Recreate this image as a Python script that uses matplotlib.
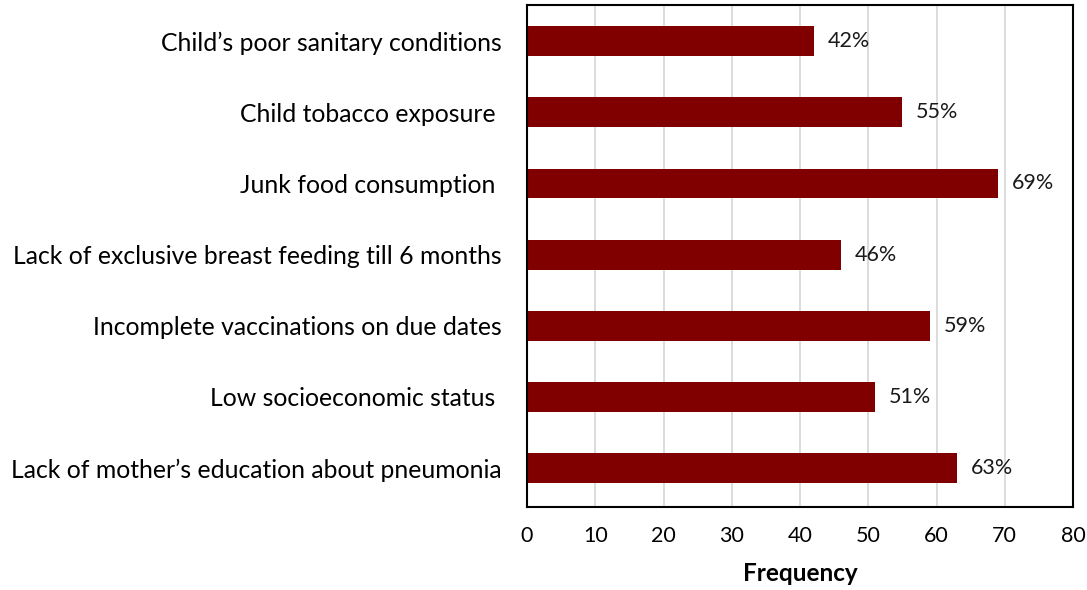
import matplotlib
matplotlib.use("Agg")
import matplotlib.pyplot as plt

categories = [
    "Child\u2019s poor sanitary conditions",
    "Child tobacco exposure ",
    "Junk food consumption ",
    "Lack of exclusive breast feeding till 6 months",
    "Incomplete vaccinations on due dates",
    "Low socioeconomic status ",
    "Lack of mother\u2019s education about pneumonia",
]
values = [42, 55, 69, 46, 59, 51, 63]
value_labels = ["42%", "55%", "69%", "46%", "59%", "51%", "63%"]
x_ticks = [0, 10, 20, 30, 40, 50, 60, 70, 80]

plt.rcParams['font.family'] = ['Lato', 'DejaVu Sans']

fig = plt.figure(figsize=(10.87, 5.90), dpi=100)
ax = fig.add_axes([527/1087, 1 - 507/590, (1073-527)/1087, (507-5)/590])

pos = list(range(len(categories)))
ax.barh(pos, values, height=0.42, color="#800000", zorder=3)
ax.set_ylim(len(categories) - 0.45, -0.51)
ax.set_xlim(0, 80)
ax.set_xticks(x_ticks)
ax.set_xticklabels([str(t) for t in x_ticks], fontsize=15.5)
ax.set_yticks(pos)
ax.set_yticklabels(categories, fontsize=17.8)
ax.tick_params(axis='both', length=0)
ax.tick_params(axis='x', pad=14)
ax.tick_params(axis='y', pad=18)
ax.grid(axis='x', color="#d9d9d9", linewidth=1.3, zorder=0)
for s in ax.spines.values():
    s.set_color("black")
    s.set_linewidth(1.5)
    s.set_zorder(4)

for p, v, lab in zip(pos, values, value_labels):
    ax.text(v + 2.0, p, lab, va='center', ha='left', fontsize=15.5, color="#1a1a1a")

ax.set_xlabel("Frequency", fontsize=17.5, fontweight='bold', labelpad=11)

fig.savefig("out.png", dpi=100)
